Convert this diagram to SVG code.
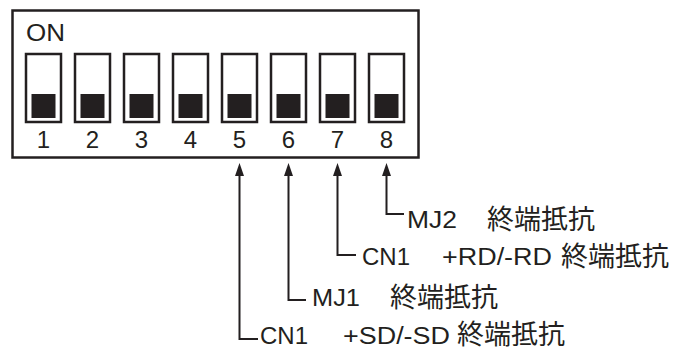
<svg xmlns="http://www.w3.org/2000/svg" width="687" height="351" viewBox="0 0 687 351">
<style>
.box{fill:#fff;stroke:#231f20;stroke-width:2.5}
.sw{fill:#fff;stroke:#231f20;stroke-width:2.5}
.knob{fill:#231f20}
.num{font-family:"Liberation Sans",Arial,sans-serif;font-size:24px;fill:#231f20;text-anchor:middle}
.on{font-family:"Liberation Sans",Arial,sans-serif;font-size:24px;fill:#231f20}
.lat{font-family:"Liberation Sans",Arial,sans-serif;font-size:23px;fill:#231f20}
.cjk{font-family:"Noto Sans CJK JP","Noto Sans CJK SC",sans-serif;font-size:27px;fill:#231f20}
.conn{fill:none;stroke:#231f20;stroke-width:2}
</style>
<defs>
<marker id="arr" markerUnits="userSpaceOnUse" markerWidth="13" markerHeight="9" refX="6" refY="4.5" orient="auto">
<path d="M0,0 L13,4.5 L0,9 z" fill="#231f20"/>
</marker>
</defs>
<g id="dipswitch">
<rect class="box" x="12.5" y="10.5" width="406" height="147"/>
<text class="on" x="26" y="41" textLength="39" lengthAdjust="spacingAndGlyphs">ON</text>
</g>
<g id="sw1"><rect class="sw" x="26" y="54" width="35" height="68"/><rect class="knob" x="31.5" y="94" width="24" height="24"/><text class="num" x="43.5" y="148">1</text></g>
<g id="sw2"><rect class="sw" x="75" y="54" width="35" height="68"/><rect class="knob" x="80.5" y="94" width="24" height="24"/><text class="num" x="92.5" y="148">2</text></g>
<g id="sw3"><rect class="sw" x="124" y="54" width="35" height="68"/><rect class="knob" x="129.5" y="94" width="24" height="24"/><text class="num" x="141.5" y="148">3</text></g>
<g id="sw4"><rect class="sw" x="173" y="54" width="35" height="68"/><rect class="knob" x="178.5" y="94" width="24" height="24"/><text class="num" x="190.5" y="148">4</text></g>
<g id="sw5"><rect class="sw" x="222" y="54" width="35" height="68"/><rect class="knob" x="227.5" y="94" width="24" height="24"/><text class="num" x="239.5" y="148">5</text></g>
<g id="sw6"><rect class="sw" x="271" y="54" width="35" height="68"/><rect class="knob" x="276.5" y="94" width="24" height="24"/><text class="num" x="288.5" y="148">6</text></g>
<g id="sw7"><rect class="sw" x="320" y="54" width="35" height="68"/><rect class="knob" x="325.5" y="94" width="24" height="24"/><text class="num" x="337.5" y="148">7</text></g>
<g id="sw8"><rect class="sw" x="369" y="54" width="35" height="68"/><rect class="knob" x="374.5" y="94" width="24" height="24"/><text class="num" x="386.5" y="148">8</text></g>
<g id="connectors">
<path class="conn" d="M258,339 H239.5 V170" marker-end="url(#arr)"/>
<path class="conn" d="M306,300 H288.5 V170" marker-end="url(#arr)"/>
<path class="conn" d="M356,255 H337.5 V170" marker-end="url(#arr)"/>
<path class="conn" d="M404,214 H386.5 V170" marker-end="url(#arr)"/>
</g>
<g id="label-mj2">
<text class="lat" x="407" y="228" textLength="50" lengthAdjust="spacingAndGlyphs">MJ2</text>
<text class="cjk" x="487" y="229">終端抵抗</text>
</g>
<g id="label-cn1-rd">
<text class="lat" x="362" y="265" textLength="48" lengthAdjust="spacingAndGlyphs">CN1</text>
<text class="lat" x="442" y="265" textLength="110" lengthAdjust="spacingAndGlyphs">+RD/-RD</text>
<text class="cjk" x="561" y="266">終端抵抗</text>
</g>
<g id="label-mj1">
<text class="lat" x="312" y="306" textLength="48" lengthAdjust="spacingAndGlyphs">MJ1</text>
<text class="cjk" x="390" y="307">終端抵抗</text>
</g>
<g id="label-cn1-sd">
<text class="lat" x="260" y="344" textLength="48" lengthAdjust="spacingAndGlyphs">CN1</text>
<text class="lat" x="343" y="344" textLength="107" lengthAdjust="spacingAndGlyphs">+SD/-SD</text>
<text class="cjk" x="457" y="344">終端抵抗</text>
</g>
</svg>
